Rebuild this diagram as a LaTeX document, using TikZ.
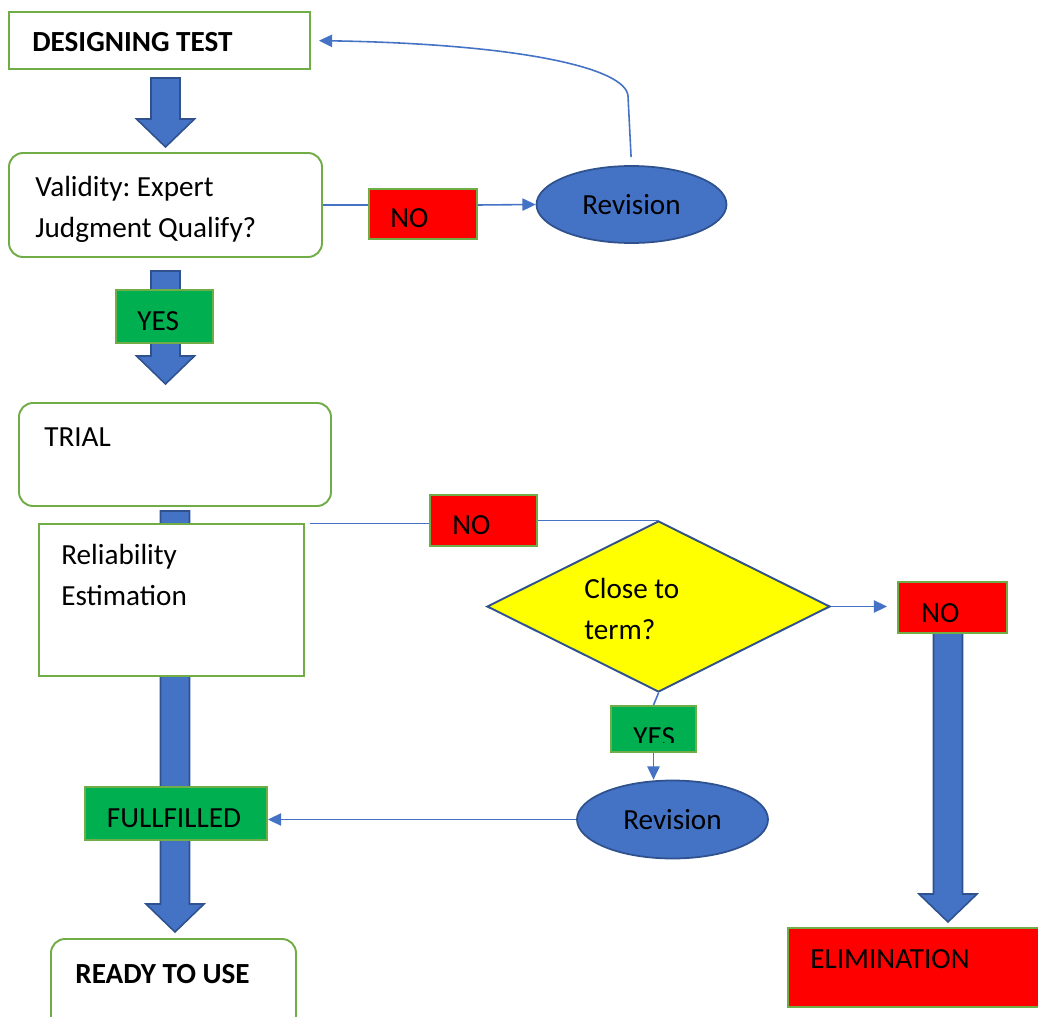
\documentclass[tikz,border=0pt]{standalone}
\usepackage{fontspec}
\setmainfont{Carlito}
\usetikzlibrary{shapes.geometric,arrows.meta}
\frenchspacing

\newdimen\pxu \pxu=0.02cm
\definecolor{flowblue}{HTML}{4472C4}
\definecolor{arrowedge}{HTML}{2F528F}
\definecolor{boxgreen}{HTML}{70AD47}
\definecolor{yesgreen}{HTML}{00B050}
\definecolor{nored}{HTML}{FF0000}
\definecolor{termyellow}{HTML}{FFFF00}

\tikzset{
  box/.style={draw=boxgreen, line width=1.1pt, fill=white, inner sep=0pt},
  rbox/.style={box, rounded corners=14\pxu},
  nobox/.style={box, fill=nored},
  yesbox/.style={box, fill=yesgreen},
  revell/.style={ellipse, draw=arrowedge, fill=flowblue, line width=1pt, inner sep=0pt,
    minimum width=190\pxu, minimum height=77\pxu},
  txt/.style={anchor=base west, inner sep=0pt, align=left},
  conn/.style={draw=flowblue, line width=0.9pt},
  tip/.style={-{Triangle[length=7.5pt,width=7pt]}},
  fat/.style={fill=flowblue, draw=arrowedge, line width=0.9pt}
}

% thick block arrow: x, top, tip
\newcommand{\fatarrow}[3]{%
  \filldraw[fat] (#1-14.5,#2) -- (#1+14.5,#2) -- (#1+14.5,#3-28) -- (#1+29,#3-28)
    -- (#1,#3) -- (#1-29,#3-28) -- (#1-14.5,#3-28) -- cycle;}

\begin{document}
\begin{tikzpicture}[x=0.02cm, y=-0.02cm, font=\fontsize{16.6}{23.3}\selectfont]
\useasboundingbox (0,0) rectangle (1038,1017);
\clip (0,0) rectangle (1038,1017);

% block arrows first, so they stay behind
\fatarrow{165.5}{78}{147}
\fatarrow{165.5}{271}{384}
\fatarrow{175}{511}{932}
\fatarrow{948}{633}{922}

% left column
\node (dt)[box, minimum width=301\pxu, minimum height=57\pxu] at (159.5,40.5) {};
\node (dt-t)[txt, font=\fontsize{16.6}{20}\selectfont\bfseries] at (32,52) {DESIGNING TEST};

\node (val)[rbox, minimum width=313\pxu, minimum height=104\pxu] at (165.5,205) {};
\node (val-t)[txt] at (35,237) {Validity: Expert\\Judgment Qualify?};

\node (yes1)[yesbox, minimum width=97\pxu, minimum height=53\pxu] at (164.5,316.5) {};
\node (yes1-t)[txt] at (137,330) {YES};

\node (trial)[rbox, minimum width=312\pxu, minimum height=103\pxu] at (175,454.5) {};
\node (trial-t)[txt] at (44,446) {TRIAL};

\node (rel)[box, minimum width=265\pxu, minimum height=152\pxu] at (171.5,600) {};
\node (rel-t)[txt] at (61,605) {Reliability\\Estimation};

\node (ful)[yesbox, minimum width=182\pxu, minimum height=53\pxu] at (176,813.5) {};
\node (ful-t)[anchor=base, inner sep=0pt] at (174,827) {FULLFILLED};

\node (ready)[rbox, minimum width=245\pxu, minimum height=110\pxu] at (173.5,994) {};
\node (ready-t)[txt, font=\fontsize{16.6}{20}\selectfont\bfseries] at (75,983) {READY TO USE};

% upper right
\node (no1)[nobox, minimum width=108\pxu, minimum height=50\pxu] at (423,214) {};
\node (no1-t)[txt] at (390,227) {NO};
\node (rev1)[revell] at (631.5,204.5) {Revision};

% middle right
\node (no2)[nobox, minimum width=107\pxu, minimum height=51\pxu] at (483.5,520.5) {};
\node (no2-t)[txt] at (452,534) {NO};

\node (term)[diamond, draw=arrowedge, fill=termyellow, line width=1.1pt, inner sep=0pt,
  minimum width=343\pxu, minimum height=171\pxu] at (658.5,606.5) {};
\node (term-t)[txt] at (584,639) {Close to\\term?};

\node (no3)[nobox, minimum width=109\pxu, minimum height=51\pxu] at (952.5,607.5) {};
\node (no3-t)[txt] at (921,622) {NO};

\node (yes2)[yesbox, minimum width=85\pxu, minimum height=46\pxu] at (653.5,729) {};
\begin{scope}
  \clip (611,706) rectangle (696,742);
  \node (yes2-t)[txt] at (633,746) {YES};
\end{scope}

\node (rev2)[revell, minimum width=191\pxu, minimum height=78\pxu] at (672.5,819.5) {Revision};

\node (elim)[nobox, minimum width=272\pxu, minimum height=79\pxu] at (924,967.5) {};
\node (elim-t)[txt] at (810,968) {ELIMINATION};

% connectors
\draw[conn] (val.east) -- (val.east -| no1.west);
\draw[conn, tip] (no1.east |- val.east) -- (rev1.west);
\draw[conn, tip, shorten <=8\pxu, shorten >=8\pxu] (rev1.north)
  -- (628,96) .. controls (626,68) and (520,44) .. (dt.east);
\draw[conn, line width=0.6pt] ([xshift=5\pxu]rel.north east) -- (rel.north east -| no2.west);
\draw[conn, line width=0.6pt] (no2.east |- term.north) -- (term.north);
\draw[conn, tip, shorten >=10\pxu] (term.east) -- (term.east -| no3.west);
\draw[conn] (term.south) -- (yes2.north);
\draw[conn, tip] (yes2.south) -- (rev2.north -| yes2.south);
\draw[conn, tip] (rev2.west) -- (rev2.west -| ful.east);
\end{tikzpicture}
\end{document}
